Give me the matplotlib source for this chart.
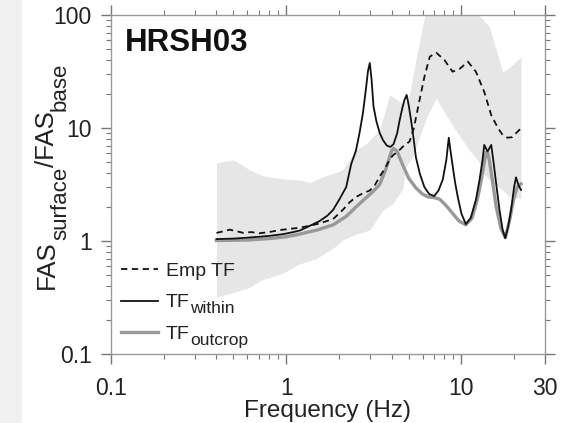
import matplotlib
matplotlib.use("Agg")
import matplotlib.pyplot as plt
import numpy as np
from matplotlib.patches import Rectangle
from matplotlib.ticker import LogLocator, FixedLocator, FixedFormatter, NullFormatter

plt.rcParams['font.family'] = ['Liberation Sans', 'DejaVu Sans']

# ---- data ----
within_f = [0.40, 0.50, 0.60, 0.70, 0.80, 0.96, 1.10, 1.20, 1.36, 1.55, 1.72, 1.85, 2.00, 2.20,
            2.35, 2.50, 2.62, 2.74, 2.85, 2.93, 3.00, 3.07, 3.15, 3.27, 3.42, 3.57, 3.75, 3.93,
            4.10, 4.30, 4.43, 4.60, 4.73, 4.87, 5.00, 5.17, 5.35, 5.50, 5.80, 6.15, 6.55, 7.00,
            7.40, 7.83, 8.20, 8.47, 8.70, 8.85, 9.20, 9.53, 10.0, 10.6, 11.3, 12.1, 12.7, 13.2,
            13.5, 14.1, 14.8, 15.2, 15.8, 16.5, 17.2, 17.8, 18.5, 19.2, 20.0, 20.5, 21.2, 21.9]
within_v = [1.04, 1.05, 1.07, 1.09, 1.11, 1.15, 1.20, 1.24, 1.36, 1.50, 1.68, 1.88, 2.3, 3.0,
            4.8, 6.3, 9.0, 13.5, 22, 32, 37.6, 27, 15.5, 11.5, 9.0, 7.8, 7.0, 6.8,
            7.2, 9.0, 11.5, 15, 17.7, 19.6, 16, 11.5, 7.8, 5.5, 3.9, 3.0, 2.6, 2.5,
            2.8, 3.5, 5.2, 8.2, 6.0, 5.0, 3.3, 2.46, 1.75, 1.41, 1.6, 2.31, 3.5, 5.2,
            7.08, 6.2, 7.08, 5.2, 3.2, 1.88, 1.25, 1.06, 1.35, 1.88, 3.02, 3.66, 3.1, 2.83]

outcrop_f = [0.40, 0.60, 0.80, 1.00, 1.19, 1.50, 1.85, 2.20, 2.51, 2.80, 3.10, 3.41, 3.70, 3.90,
             4.00, 4.10, 4.30, 4.60, 5.00, 5.50, 6.00, 6.43, 7.00, 7.50, 8.20, 8.90, 9.70, 10.6,
             11.5, 12.3, 13.0, 13.6, 13.9, 14.1, 14.4, 15.0, 15.8, 16.8, 17.8, 18.8, 19.8, 20.8,
             21.9]
outcrop_v = [1.01, 1.02, 1.05, 1.09, 1.15, 1.25, 1.39, 1.65, 2.01, 2.35, 2.7, 3.15, 4.3, 5.6,
             6.3, 6.6, 6.2, 4.8, 3.6, 2.95, 2.6, 2.46, 2.42, 2.35, 2.05, 1.76, 1.5, 1.39,
             1.6, 2.3, 3.5, 5.3, 6.1, 6.1, 5.3, 3.5, 2.0, 1.3, 1.07, 1.5, 2.3, 3.0,
             3.2]

emp_f = [0.40, 0.44, 0.476, 0.52, 0.57, 0.63, 0.70, 0.80, 0.92, 1.05, 1.19, 1.35, 1.55, 1.70,
         1.85, 2.10, 2.30, 2.51, 2.75, 3.00, 3.20, 3.41, 3.70, 3.90, 4.10, 4.35, 4.63, 5.06,
         5.35, 5.77, 6.15, 6.60, 7.18, 8.00, 8.90, 9.80, 10.9, 12.1, 13.5, 14.8, 16.2, 17.2,
         18.3, 19.5, 20.5, 21.9]
emp_v = [1.18, 1.22, 1.26, 1.22, 1.18, 1.20, 1.17, 1.20, 1.25, 1.28, 1.31, 1.36, 1.43, 1.50,
         1.56, 1.88, 2.2, 2.46, 2.65, 2.8, 3.1, 3.7, 4.5, 5.3, 5.8, 6.2, 6.83, 7.6,
         9.94, 17.7, 28.4, 42.8, 46.4, 40, 31.5, 33.5, 38.6, 31.5, 20.9, 13.0, 9.94, 8.67,
         8.2, 8.3, 9.0, 9.94]

band_up_f = [0.40, 0.45, 0.50, 0.56, 0.62, 0.70, 0.77, 0.90, 1.05, 1.19, 1.36, 1.55, 1.85, 2.10,
             2.30, 2.51, 2.87, 3.41, 3.90, 4.20, 4.63, 5.00, 5.50, 6.15, 6.50, 10.0, 12.9, 14.5,
             15.0, 17.2, 18.0, 19.0, 21.9]
band_up_v = [4.88, 5.1, 5.2, 4.7, 4.25, 3.9, 3.71, 3.6, 3.5, 3.47, 3.3, 3.6, 3.97, 4.25,
             5.3, 6.4, 7.3, 9.6, 19.6, 18, 16.5, 18, 40, 96, 120, 130, 96, 78,
             64, 31.5, 32.6, 35, 42.8]

band_lo_f = [0.40, 0.50, 0.62, 0.72, 0.96, 1.17, 1.49, 1.90, 2.10, 2.50, 3.00, 3.57, 4.06, 4.63,
             4.80, 5.28, 5.80, 6.40, 7.18, 8.50, 9.80, 11.1, 12.6, 13.2, 15.0, 17.2, 18.7, 21.9]
band_lo_v = [0.32, 0.35, 0.39, 0.45, 0.52, 0.62, 0.70, 0.89, 1.02, 1.15, 1.25, 1.88, 2.15, 2.9,
             4.5, 5.6, 8.5, 13, 18.3, 11.8, 8.4, 6.4, 5.0, 4.0, 3.3, 2.83, 2.46, 2.39]

x_ticks = [0.1, 1, 10, 30]
x_ticklabels = ['0.1', '1', '10', '30']
y_ticks = [0.1, 1, 10, 100]
y_ticklabels = ['0.1', '1', '10', '100']

legend_main = ['Emp TF', 'TF', 'TF']
legend_sub = ['', 'within', 'outcrop']
ylabel_parts = [('FAS', False), ('surface', True), ('/FAS', False), ('base', True)]

# ---- figure ----
W, H = 583, 423
fig = plt.figure(figsize=(W / 100, H / 100), dpi=100)
fig.patches.append(Rectangle((0, 0), 22 / W, 1, transform=fig.transFigure,
                             facecolor='#f0f0f0', edgecolor='none', zorder=0))
ax = fig.add_axes([111 / W, 1 - 354 / H, (545 - 111) / W, (354 - 15) / H])
ax.set_xscale('log')
ax.set_yscale('log')

band_f = sorted(set(band_up_f) | set(band_lo_f))
up_i = np.exp(np.interp(np.log(band_f), np.log(band_up_f), np.log(band_up_v)))
lo_i = np.exp(np.interp(np.log(band_f), np.log(band_lo_f), np.log(band_lo_v)))
ax.fill_between(band_f, lo_i, up_i, color='#e6e6e6', linewidth=0, zorder=1)

l1, = ax.plot(emp_f, emp_v, color='#111111', lw=1.3, ls=(0, (3.5, 2.5)), zorder=3)
l2, = ax.plot(within_f, within_v, color='#111111', lw=1.3, zorder=4)
l3, = ax.plot(outcrop_f, outcrop_v, color='#999999', lw=2.4, zorder=2)

ax.set_xlim(0.1, 30)
ax.set_ylim(0.1, 100)

ax.xaxis.set_major_locator(FixedLocator(x_ticks))
ax.xaxis.set_major_formatter(FixedFormatter(x_ticklabels))
ax.xaxis.set_minor_locator(LogLocator(base=10, subs=np.arange(2, 10)))
ax.xaxis.set_minor_formatter(NullFormatter())
ax.yaxis.set_major_locator(FixedLocator(y_ticks))
ax.yaxis.set_major_formatter(FixedFormatter(y_ticklabels))
ax.yaxis.set_minor_locator(LogLocator(base=10, subs=np.arange(2, 10)))
ax.yaxis.set_minor_formatter(NullFormatter())

ax.tick_params(which='both', direction='out', top=True, right=True,
               labeltop=False, labelright=False, color='#777777',
               labelsize=16.5, labelcolor='#222222')
ax.tick_params(which='major', length=7.5, width=1.0)
ax.tick_params(axis='x', which='major', pad=9)
ax.tick_params(axis='y', which='major', pad=6.5)
ax.tick_params(which='minor', length=3.5, width=0.8)
for s in ax.spines.values():
    s.set_color('#999999')
    s.set_linewidth(1.0)

ax.set_xlabel('Frequency (Hz)', fontsize=17.5, color='#222222')
ax.xaxis.set_label_coords(0.5, -(400 - 354) / 339)
ax.xaxis.label.set_va('top')

# y label built from pieces (large, well-lowered subscripts)
last = None
for txt, is_sub in ylabel_parts:
    xb = (66 if is_sub else 54) / W
    size = 16 if is_sub else 18.5
    if last is None:
        last = fig.text(xb, 1 - 289 / H, txt, rotation=90, rotation_mode='anchor',
                        ha='left', va='baseline', fontsize=size, color='#222222')
    else:
        last = ax.annotate(txt, xy=(xb, 1.0), xycoords=('figure fraction', last),
                           rotation=90, rotation_mode='anchor', ha='left',
                           va='baseline', fontsize=size, color='#222222',
                           annotation_clip=False, zorder=6)

ax.text(0.033, 0.962, 'HRSH03', transform=ax.transAxes, fontsize=22.5,
        fontweight='bold', va='top', ha='left', color='#111111')

leg = ax.legend(handles=[l1, l2, l3], labels=legend_main, loc='lower left',
                bbox_to_anchor=((121 - 111) / 434, (354 - 343) / 339),
                frameon=False, fontsize=14, handlelength=1.9, handletextpad=0.4,
                labelspacing=0.72, borderaxespad=0.0, borderpad=0.0,
                labelcolor='#222222')
for t, sub in zip(leg.get_texts(), legend_sub):
    if sub:
        ax.annotate(sub, xy=(1.0, 0.0), xycoords=t, xytext=(0.5, -1.5),
                    textcoords='offset points', ha='left', va='baseline',
                    fontsize=12.5, color='#222222', annotation_clip=False, zorder=6)

fig.canvas.draw()
fig.savefig('out.png', dpi=100)
